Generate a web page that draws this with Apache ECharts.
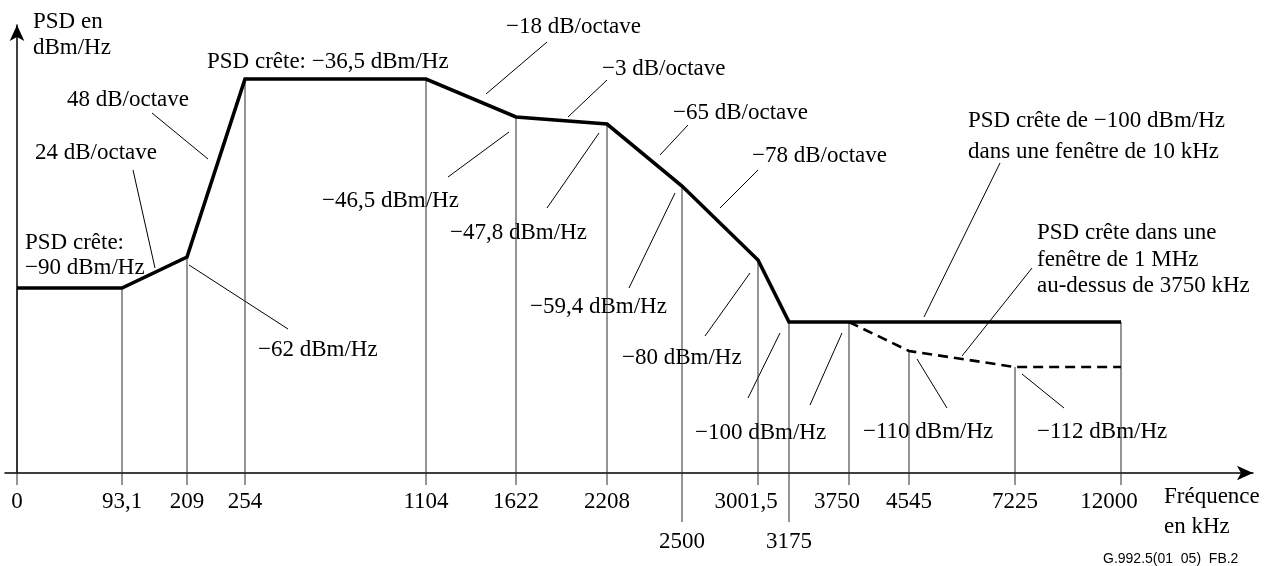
<!DOCTYPE html>
<html>
<head>
<meta charset="utf-8">
<script src="https://cdn.jsdelivr.net/npm/echarts@6/dist/echarts.min.js"></script>
<style>
  html, body { margin: 0; padding: 0; background: #fff; }
  #main { width: 1275px; height: 566px; }
</style>
</head>
<body>
<div id="main"></div>
<script>
// axe des fréquences (schématique, pas à l'échelle)
var freqTicks = ['0', '93,1', '209', '254', '1104', '1622', '2208', '2500', '3001,5', '3175', '3750', '4545', '7225', '12000'];
var tickPos = [0, 105, 170, 228, 409, 499, 590, 665, 741, 772, 832, 892, 998, 1104];
var lowTicks = ['2500', '3175'];
var shiftedTicks = ['3001,5', '3750', '12000'];

// niveaux de PSD (dBm/Hz) et hauteur dessinée sur la figure
var psdLevels = [-36.5, -46.5, -47.8, -59.4, -62, -80, -90, -100, -110, -112];
var levelHeight = [394, 356, 349, 287, 216, 213, 185, 151, 122, 106];

// gabarit principal
var maskFreq = ['0', '93,1', '209', '254', '1104', '1622', '2208', '2500', '3001,5', '3175', '12000'];
var maskPsd = [-90, -90, -62, -36.5, -36.5, -46.5, -47.8, -59.4, -80, -100, -100];

// PSD crête dans une fenêtre de 1 MHz
var windowFreq = ['3750', '4545', '7225', '12000'];
var windowPsd = [-100, -110, -112, -112];

function xOf(f) { return tickPos[freqTicks.indexOf(f)]; }
function yOf(p) { return levelHeight[psdLevels.indexOf(p)]; }
function toPoints(fs, ps) {
  return fs.map(function (f, i) { return [xOf(f), yOf(ps[i])]; });
}

var mainData = toPoints(maskFreq, maskPsd);
var windowData = toPoints(windowFreq, windowPsd);

// traits verticaux : du gabarit jusqu'à l'axe (plus la graduation)
var dropData = freqTicks.map(function (f) {
  var tops = [];
  maskFreq.forEach(function (g, i) { if (g === f) tops.push(yOf(maskPsd[i])); });
  windowFreq.forEach(function (g, i) { if (g === f) tops.push(yOf(windowPsd[i])); });
  var top = tops.length ? Math.max.apply(null, tops) : 0;
  return [xOf(f), top, lowTicks.indexOf(f) >= 0 ? 1 : 0];
});

var serif = 'Liberation Serif';
var fs = 23;

var notes = [
  ['PSD en', 33, 21], ['dBm/Hz', 33, 47],
  ['PSD crête: \u221236,5 dBm/Hz', 207, 61],
  ['48 dB/octave', 67, 99],
  ['24 dB/octave', 35, 152],
  ['PSD crête:', 25, 242], ['\u221290 dBm/Hz', 25, 267],
  ['\u221262 dBm/Hz', 258, 349],
  ['\u221218 dB/octave', 506, 26],
  ['\u22123 dB/octave', 602, 68],
  ['\u221265 dB/octave', 673, 112],
  ['\u221278 dB/octave', 752, 155],
  ['\u221246,5 dBm/Hz', 322, 200],
  ['\u221247,8 dBm/Hz', 450, 232],
  ['\u221259,4 dBm/Hz', 530, 306],
  ['\u221280 dBm/Hz', 622, 357],
  ['\u2212100 dBm/Hz', 695, 432],
  ['\u2212110 dBm/Hz', 863, 431],
  ['\u2212112 dBm/Hz', 1037, 431],
  ['PSD crête de \u2212100 dBm/Hz', 968, 120], ['dans une fenêtre de 10 kHz', 968, 151],
  ['PSD crête dans une', 1037, 232], ['fenêtre de 1 MHz', 1037, 259], ['au-dessus de 3750 kHz', 1037, 285],
  ['Fréquence', 1164, 496], ['en kHz', 1164, 526]
];

var leaders = [
  [152, 113, 208, 159], [133, 170, 155, 268], [189, 265, 288, 329],
  [547, 42, 486, 94], [607, 80, 568, 117], [688, 125, 660, 155], [758, 170, 720, 208],
  [509, 132, 448, 177], [599, 133, 547, 208], [675, 193, 629, 288], [750, 273, 705, 336],
  [780, 333, 748, 398], [842, 333, 810, 405], [917, 359, 947, 408], [1022, 374, 1064, 408],
  [1000, 163, 924, 317], [1032, 268, 962, 356]
];

var graphics = [];
notes.forEach(function (n) {
  graphics.push({
    type: 'text', left: n[1], top: n[2] - 11,
    style: { text: n[0], font: fs + 'px "' + serif + '"', fill: '#000' }
  });
});
leaders.forEach(function (l) {
  graphics.push({
    type: 'line',
    shape: { x1: l[0], y1: l[1], x2: l[2], y2: l[3] },
    style: { stroke: '#000', lineWidth: 1 }
  });
});
graphics.push({
  type: 'text', left: 1103, top: 552,
  style: { text: 'G.992.5(01  05)  FB.2', font: '14px "Liberation Sans"', fill: '#000' }
});

var chart = echarts.init(document.getElementById('main'));
chart.setOption({
  animation: false,
  backgroundColor: '#fff',
  grid: { left: 5, right: 22, top: 25, bottom: 93 },
  xAxis: {
    type: 'value', min: -12, max: 1236,
    splitLine: { show: false },
    axisTick: { show: false },
    axisLine: {
      onZero: true,
      symbol: ['none', 'arrow'], symbolSize: [11, 16],
      lineStyle: { color: '#000', width: 1.5 }
    },
    axisLabel: {
      customValues: tickPos,
      margin: 17,
      fontFamily: serif, fontSize: fs, color: '#000',
      formatter: function (v) {
        var lbl = freqTicks[tickPos.indexOf(v)];
        if (lowTicks.indexOf(lbl) >= 0) return '{low|' + lbl + '}';
        if (shiftedTicks.indexOf(lbl) >= 0) return '{sh|' + lbl + '}';
        return lbl;
      },
      rich: {
        low: { fontFamily: serif, fontSize: fs, color: '#000', padding: [40, 0, 0, 0] },
        sh: { fontFamily: serif, fontSize: fs, color: '#000', padding: [0, 24, 0, 0] }
      }
    }
  },
  yAxis: {
    type: 'value', min: 0, max: 448,
    splitLine: { show: false },
    axisTick: { show: false },
    axisLabel: { show: false },
    axisLine: {
      onZero: true,
      symbol: ['none', 'arrow'], symbolSize: [11, 16],
      lineStyle: { color: '#000', width: 1.5 }
    }
  },
  series: [
    {
      type: 'custom',
      silent: true,
      data: dropData,
      renderItem: function (params, api) {
        var top = api.coord([api.value(0), api.value(1)]);
        var base = api.coord([api.value(0), 0]);
        var len = api.value(2) ? 49 : 12;
        return {
          type: 'line',
          shape: { x1: top[0], y1: top[1], x2: base[0], y2: base[1] + len },
          style: { stroke: '#2a2a2a', lineWidth: 1 }
        };
      }
    },
    {
      type: 'line',
      data: windowData,
      symbol: 'none',
      lineStyle: { color: '#000', width: 2.6, type: [10, 6], join: 'miter' },
      z: 3
    },
    {
      type: 'line',
      data: mainData,
      symbol: 'none',
      lineStyle: { color: '#000', width: 3.6, join: 'miter' },
      z: 4
    }
  ],
  graphic: graphics
});
</script>
</body>
</html>
